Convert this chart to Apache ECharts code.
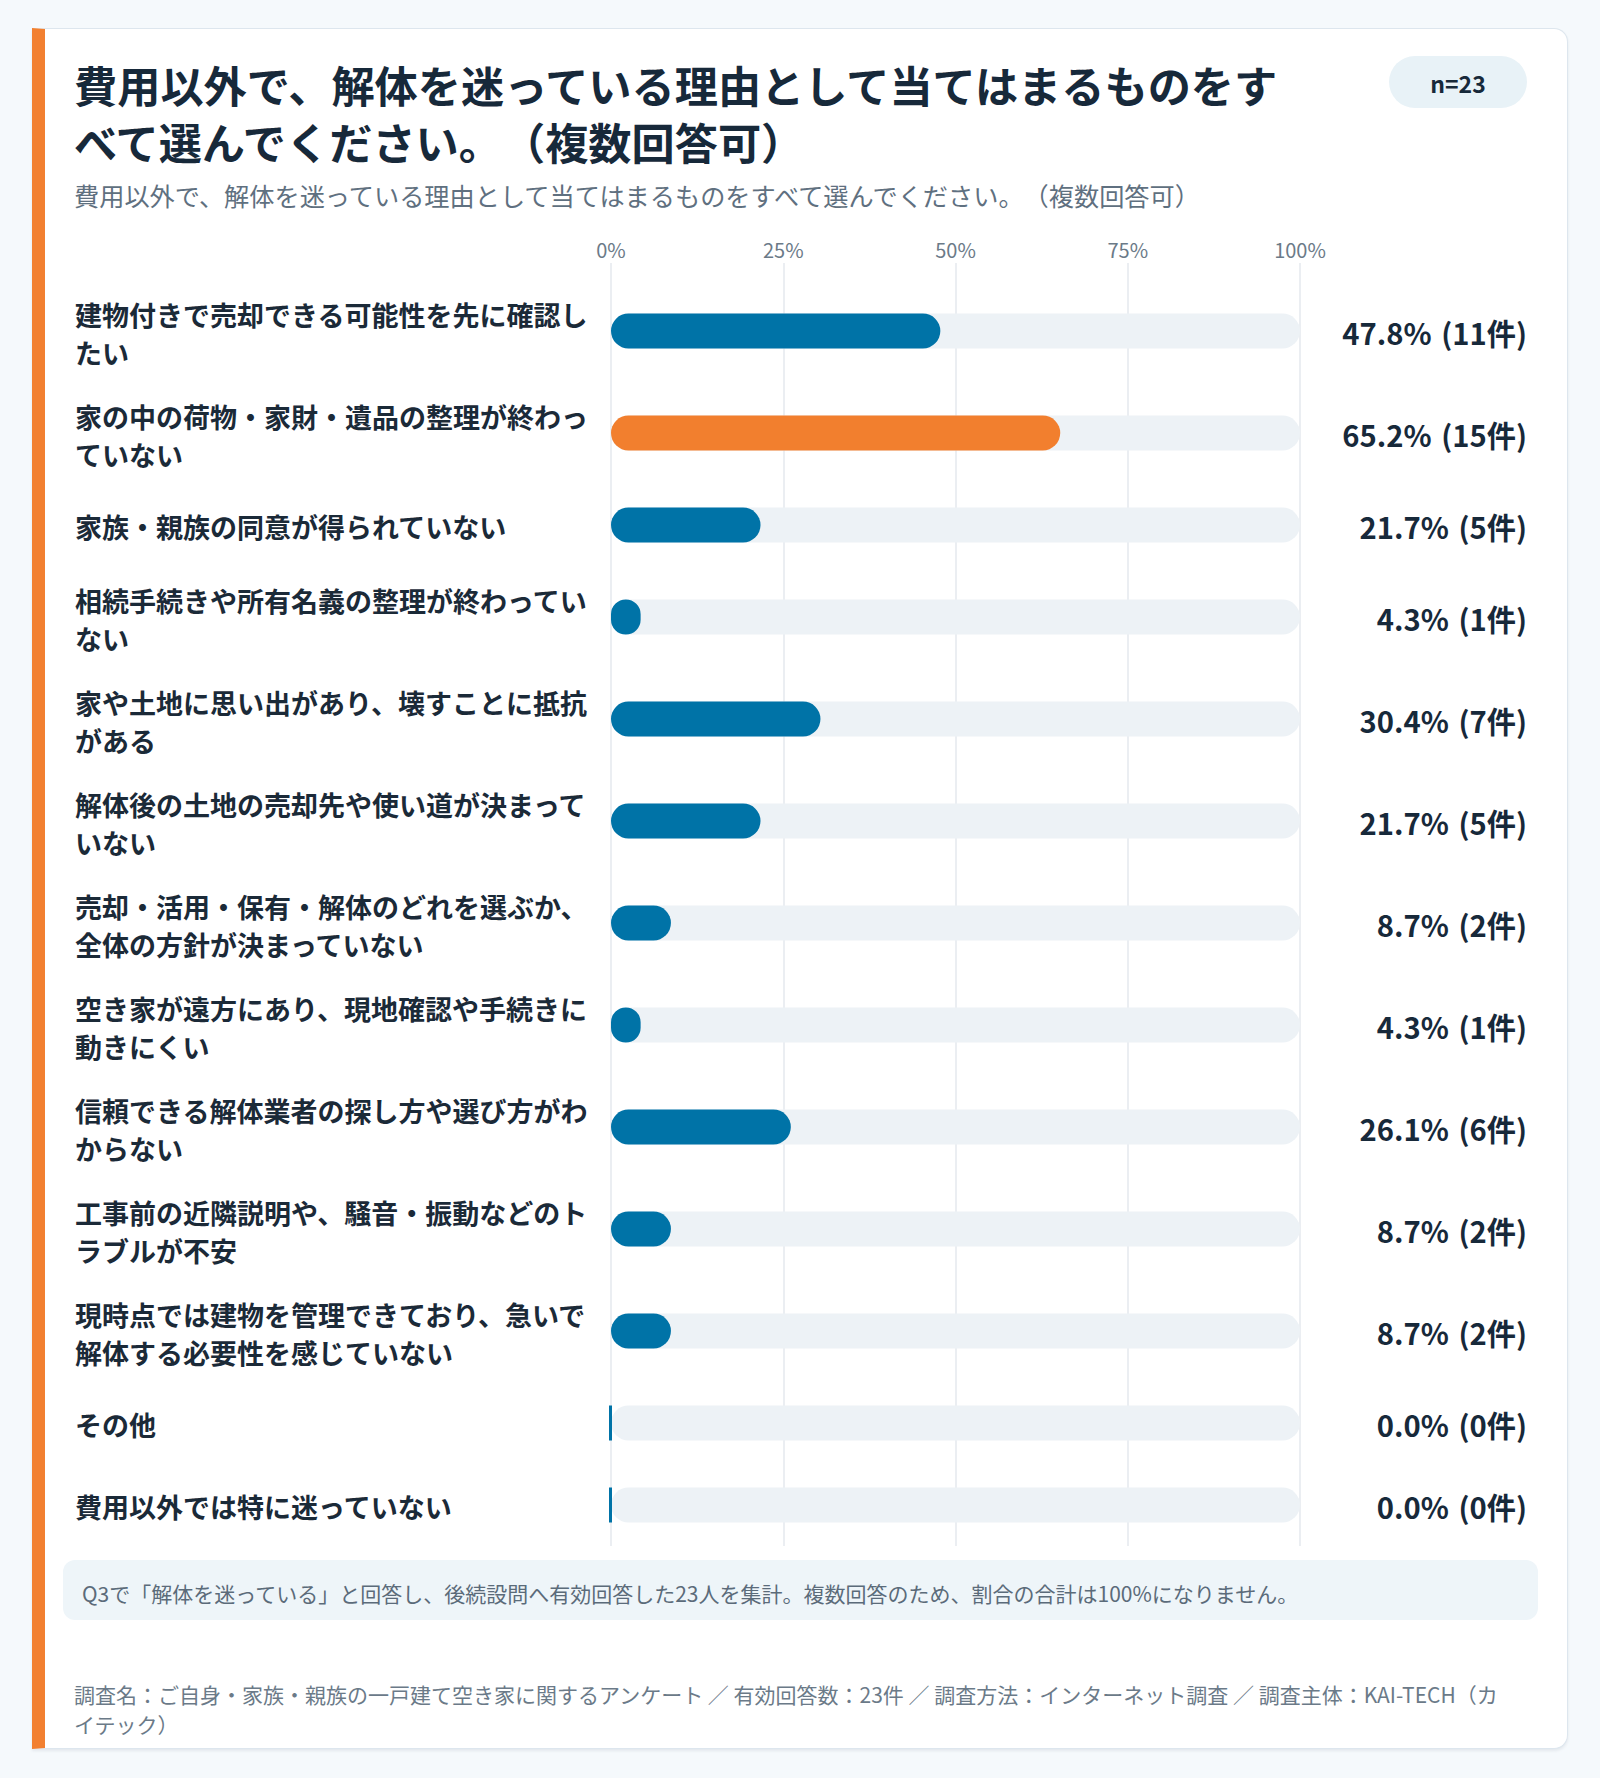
<!DOCTYPE html>
<html>
<head>
<meta charset="utf-8">
<script src="https://cdn.jsdelivr.net/npm/echarts@6/dist/echarts.min.js"></script>
<style>
html,body{margin:0;padding:0;background:#f5f9fc;width:1600px;height:1778px;overflow:hidden;text-spacing-trim:space-all}
#card{position:absolute;left:32px;top:28px;width:1536px;height:1721px;box-sizing:border-box;background:#fff;border:1.5px solid #dde6ee;border-left:13px solid #f28030;border-radius:0 14px 14px 0;box-shadow:0 2px 3px rgba(20,40,60,0.08)}
#chart{position:absolute;left:0;top:0;width:1600px;height:1778px}
#chart svg, #chart svg text, #chart svg tspan{text-spacing-trim:space-all}
</style>
</head>
<body>
<div id="card"></div>
<div id="chart"></div>
<script>
const FONT = '"Noto Sans CJK JP","Noto Sans",sans-serif';

const titleText = '費用以外で、解体を迷っている理由として当てはまるものをす\nべて選んでください。（複数回答可）';
const subtitleText = '費用以外で、解体を迷っている理由として当てはまるものをすべて選んでください。（複数回答可）';
const sampleLabel = 'n=23';

const categories = [
  '建物付きで売却できる可能性を先に確認し\nたい',
  '家の中の荷物・家財・遺品の整理が終わっ\nていない',
  '家族・親族の同意が得られていない',
  '相続手続きや所有名義の整理が終わってい\nない',
  '家や土地に思い出があり、壊すことに抵抗\nがある',
  '解体後の土地の売却先や使い道が決まって\nいない',
  '売却・活用・保有・解体のどれを選ぶか、\n全体の方針が決まっていない',
  '空き家が遠方にあり、現地確認や手続きに\n動きにくい',
  '信頼できる解体業者の探し方や選び方がわ\nからない',
  '工事前の近隣説明や、騒音・振動などのト\nラブルが不安',
  '現時点では建物を管理できており、急いで\n解体する必要性を感じていない',
  'その他',
  '費用以外では特に迷っていない'
];
const percents = [47.8, 65.2, 21.7, 4.3, 30.4, 21.7, 8.7, 4.3, 26.1, 8.7, 8.7, 0.0, 0.0];
const counts   = [11, 15, 5, 1, 7, 5, 2, 1, 6, 2, 2, 0, 0];
const tickValues = [0, 25, 50, 75, 100];

const noteText = 'Q3で「解体を迷っている」と回答し、後続設問へ有効回答した23人を集計。複数回答のため、割合の合計は100%になりません。';
const footerText = '調査名：ご自身・家族・親族の一戸建て空き家に関するアンケート ／ 有効回答数：23件 ／ 調査方法：インターネット調査 ／ 調査主体：KAI-TECH（カ\nイテック）';

// layout (rows grow with the label's line count)
const ROW_ONE = 82, ROW_TWO = 102, TOP_PAD = 17;
const lineCounts = categories.map(c => c.split('\n').length);
const centers = [];
let acc = TOP_PAD;
lineCounts.forEach(n => { const h = n > 1 ? ROW_TWO : ROW_ONE; centers.push(acc + h / 2); acc += h; });
const yMax = acc;

const hiIndex = percents.indexOf(Math.max(...percents));
const BLUE = '#0073a7', ORANGE = '#f27f2e', TRACK = '#edf2f6', DARK = '#17293a';
const BAR_H = 35;

const chart = echarts.init(document.getElementById('chart'), null, {renderer: 'svg'});

chart.setOption({
  animation: false,
  backgroundColor: 'transparent',
  textStyle: {fontFamily: FONT},
  title: [
    {text: titleText, left: 74, top: 55, padding: 0,
     textStyle: {fontSize: 43.2, fontWeight: 'bold', color: DARK, lineHeight: 57, fontFamily: FONT}},
    {text: subtitleText, left: 74, top: 180, padding: 0,
     textStyle: {fontSize: 25.2, fontWeight: 'normal', color: '#5f7080', lineHeight: 30, fontFamily: FONT}}
  ],
  grid: {left: 611, top: 263, width: 689, height: yMax, containLabel: false},
  xAxis: {
    type: 'value', position: 'top',
    min: tickValues[0], max: tickValues[tickValues.length - 1], interval: tickValues[1] - tickValues[0],
    axisLine: {show: false}, axisTick: {show: false},
    axisLabel: {formatter: '{value}%', color: '#6b7a88', fontSize: 20, fontFamily: FONT, margin: 4},
    splitLine: {show: true, lineStyle: {color: '#e4e9ee', width: 1.5}}
  },
  yAxis: {type: 'value', inverse: true, min: 0, max: yMax, show: false, splitLine: {show: false}},
  graphic: [
    {type: 'rect', shape: {x: 1389, y: 56, width: 138, height: 52, r: 26}, style: {fill: '#e8f2f7'}},
    {type: 'text', x: 1458, y: 83, style: {text: sampleLabel, fill: DARK, fontSize: 23, fontWeight: 'bold', fontFamily: FONT, align: 'center', verticalAlign: 'middle', textAlign: 'center', textVerticalAlign: 'middle'}},
    {type: 'rect', shape: {x: 63, y: 1560, width: 1475, height: 60, r: 12}, style: {fill: '#eef5f9'}},
    {type: 'text', x: 82, y: 1593, style: {text: noteText, fill: '#5b6b7a', fontSize: 21, fontFamily: FONT, align: 'left', verticalAlign: 'middle', textAlign: 'left', textVerticalAlign: 'middle'}},
    {type: 'text', x: 74, y: 1709, style: {text: footerText, fill: '#6b7a88', fontSize: 21, lineHeight: 30, fontFamily: FONT, align: 'left', verticalAlign: 'middle', textAlign: 'left', textVerticalAlign: 'middle'}}
  ],
  series: [{
    type: 'custom',
    clip: false,
    data: percents.map((v, i) => [v, centers[i], i]),
    encode: {x: 0, y: 1},
    renderItem: function (params, api) {
      const v = api.value(0), yc = api.value(1), i = api.value(2);
      const p0 = api.coord([0, yc]);
      const p100 = api.coord([100, yc]);
      const pv = api.coord([v, yc]);
      const y = p0[1];
      const w = Math.max(pv[0] - p0[0], 3);
      const r = w < 8 ? 0 : BAR_H / 2;
      const multi = categories[i].indexOf('\n') >= 0;
      return {
        type: 'group',
        children: [
          {type: 'rect', shape: {x: p0[0], y: y - BAR_H / 2, width: p100[0] - p0[0], height: BAR_H, r: BAR_H / 2}, style: {fill: TRACK}},
          {type: 'rect', shape: {x: p0[0] - (w < 8 ? 2 : 0), y: y - BAR_H / 2, width: w, height: BAR_H, r: r}, style: {fill: i === hiIndex ? ORANGE : BLUE}},
          {type: 'text', style: {text: categories[i], x: 75, y: y + (multi ? 2 : 1), fill: '#1b2a38', fontSize: 27, fontWeight: 'bold', fontFamily: FONT, lineHeight: 38, align: 'left', verticalAlign: 'middle'}},
          {type: 'text', style: {text: v.toFixed(1) + '%\u2004(' + counts[i] + '件)', x: 1527, y: y + 1, fill: DARK, fontSize: 29.2, fontWeight: 'bold', fontFamily: FONT, align: 'right', verticalAlign: 'middle'}}
        ]
      };
    }
  }]
});
</script>
</body>
</html>
